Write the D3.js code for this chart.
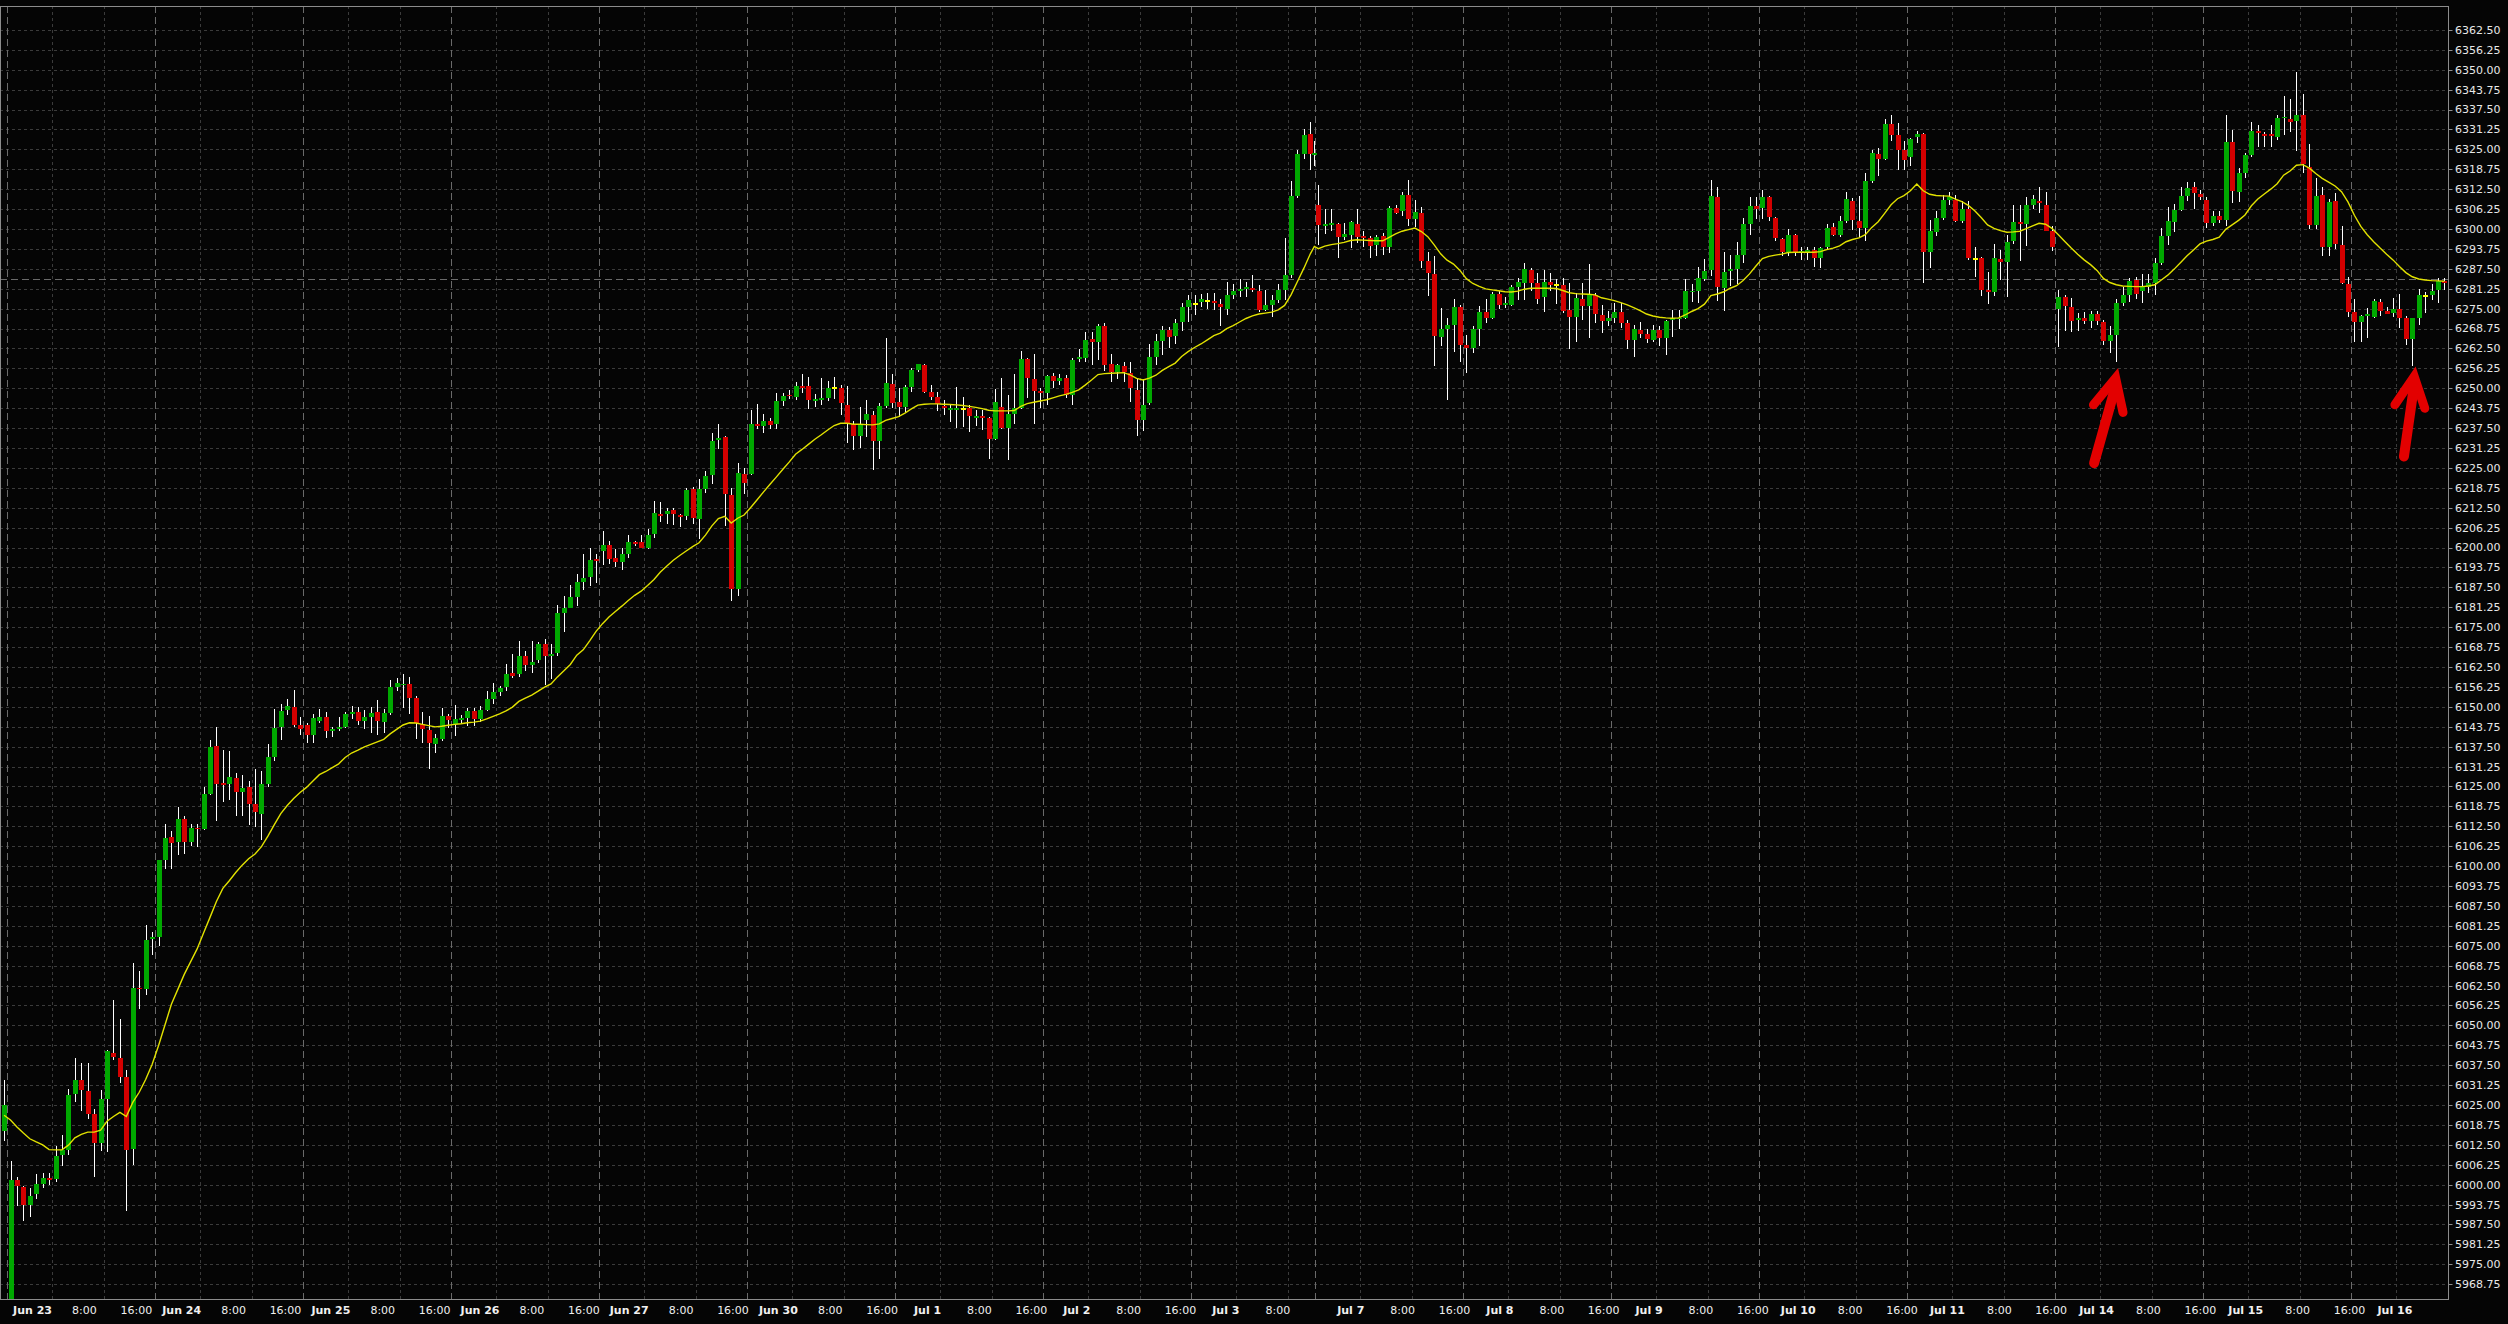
<!DOCTYPE html>
<html><head><meta charset="utf-8">
<script src="https://cdn.jsdelivr.net/npm/d3@7"></script>
<style>html,body{margin:0;padding:0;background:#050505;} svg{display:block;}</style>
</head><body>
<svg id="chart" width="2508" height="1324"></svg>
<script>
// ---------------- DATA ----------------
// Trading sessions (hourly candles, session 17:00 -> 16:00). First entry = last hour of Jun 20 session.
const sessionDates   = ['Jun 20','Jun 23','Jun 24','Jun 25','Jun 26','Jun 27','Jun 30','Jul 1','Jul 2','Jul 3','Jul 7','Jul 8','Jul 9','Jul 10','Jul 11','Jul 14','Jul 15','Jul 16'];
const sessionHours   = [1,23,23,23,23,23,23,23,23,19.25,23,23,23,23,23,23,23,23];
const sessionCandles = [1,23,23,23,23,23,23,23,23,20,23,23,23,23,23,23,23,15];

const open = [
 6016.9,
 5958,6001.3,5999.2,5993.6,5997.0,6000.3,6002.2,6001.7,6009.4,6011.0,6028.3,6033.0,6029.3,6022.1,6013.1,6027.0,6041.3,6039.8,6033.9,6011.1,6061.8,6061.3,6077.1,
 6077.7,6101.9,6109.2,6107.5,6114.8,6107.5,6112.1,6111.6,6122.7,6137.6,6126.2,6125.9,6127.7,6123.4,6124.7,6119.6,6116.2,6125.8,6134.3,6143.6,6149.0,6150.0,6144.4,
 6144.2,6141.1,6145.7,6146.7,6142.3,6142.9,6143.8,6147.9,6148.3,6145.7,6146.7,6148.3,6145.1,6148.0,6156.3,6156.7,6157.2,6152.7,6144.5,6142.7,6138.4,6140.0,6147.1,
 6144.7,6145.8,6146.6,6148.7,6146.3,6149.0,6152.6,6154.7,6156.2,6160.7,6160.2,6165.9,6163.0,6164.7,6169.7,6166.0,6167.0,6179.5,6181.0,6184.5,6189.3,6190.7,6196.4,
 6198.9,6200.9,6196.7,6195.5,6198.1,6201.7,6201.7,6199.8,6204.2,6210.4,6210.4,6211.7,6210.3,6209.9,6218.5,6209.1,6218.5,6222.8,6233.9,6234.7,6216.5,6187.1,6223.2,
 6223.2,6238.9,6238.0,6239.7,6238.7,6246.0,6248.0,6247.4,6250.7,6250.7,6246.2,6246.5,6247.0,6250.0,6250.0,6244.9,6238.9,6235.1,6240.1,6241.5,6233.5,6244.3,6251.4,
 6245.6,6244.1,6250.3,6255.6,6257.2,6248.9,6247.3,6244.5,6243.3,6243.3,6243.5,6243.8,6240.7,6241.2,6240.6,6234.0,6244.0,6237.5,6241.9,6243.7,6259.2,6252.8,6249.2,
 6248.5,6254.0,6252.3,6253.2,6247.8,6259.1,6259.5,6265.5,6264.5,6269.7,6257.5,6255.1,6256.9,6254.8,6249.6,6239.9,6245.3,6259.8,6264.7,6268.2,6266.3,6270.7,6275.4,
 6276.4,6277.1,6277.4,6277.3,6276.4,6275.0,6279.4,6280.4,6281.1,6281.5,6280.5,6274.6,6276.2,6277.8,6280.7,6285.6,6310.2,6323.6,6329.9,6323.2,
 6307.6,6300.8,6301.3,6301.6,6297.6,6298.2,6301.6,6297.9,6297.3,6295.0,6297.8,6294.2,6306.7,6305.5,6310.7,6303.1,6305.0,6289.9,6285.9,6266.2,6268.6,6269.9,6275.5,
 6263.5,6262.5,6268.6,6273.8,6272.2,6279.6,6276.1,6276.2,6281.7,6283.2,6287.2,6283.2,6278.5,6283.4,6282.3,6282.5,6274.6,6272.3,6278.0,6275.7,6279.2,6273.1,6271.0,
 6272.2,6273.8,6270.6,6265.2,6268.3,6267.1,6265.0,6268.3,6265.9,6271.3,6271.7,6272.2,6280.1,6280.6,6284.4,6287.2,6310.1,6281.6,6286.7,6287.5,6291.7,6301.6,6307.3,
 6306.7,6310.1,6303.4,6296.9,6292.9,6298.2,6292.6,6292.7,6293.5,6291.0,6294.5,6300.6,6298.2,6302.4,6308.8,6302.6,6300.3,6315.1,6323.6,6322.0,6333.0,6329.5,6324.8,
 6322.7,6328.8,6329.9,6292.9,6299.2,6303.6,6309.2,6309.2,6302.4,6306.3,6290.7,6290.8,6280.7,6280.2,6290.6,6289.5,6296.1,6302.1,6301.6,6307.6,6308.9,6307.6,6299.4,
 6274.8,6278.6,6275.5,6271.3,6272.1,6271.0,6273.4,6270.9,6264.7,6266.8,6276.9,6279.3,6284.0,6280.4,6281.9,6283.0,6289.3,6297.7,6302.3,6306.0,6310.2,6313.1,6311.0,
 6309.1,6302.0,6304.1,6302.9,6327.2,6311.5,6317.5,6323.3,6330.8,6329.9,6329.9,6329.0,6334.8,6334.5,6334.0,6335.8,6319.4,6301.3,6310.7,6294.2,6308.8,6295.0,6282.8,
 6273.9,6270.9,6272.7,6272.5,6277.0,6274.1,6273.6,6274.8,6272.0,6265.5,6272.0,6279.1,6279.3,6280.9,6283.7
];
const high = [
 6032.7,
 6007.5,6002.5,5999.7,5998.8,6003.4,6003.8,6003.8,6012.2,6015.6,6029.9,6039.6,6038.2,6038.2,6023.7,6029.6,6042.2,6058.1,6052.0,6035.9,6069.5,6067.0,6081.5,6079.3,
 6102.0,6113.1,6110.9,6118.7,6115.6,6113.1,6113.1,6124.9,6139.5,6143.8,6136.4,6136.1,6129.3,6128.7,6126.8,6130.5,6129.9,6138.2,6149.2,6151.0,6152.3,6155.4,6146.7,
 6144.8,6147.7,6149.2,6148.5,6143.8,6146.7,6148.5,6150.4,6150.0,6149.0,6149.8,6152.0,6149.2,6158.5,6159.0,6160.2,6159.4,6153.4,6148.5,6147.1,6141.4,6149.7,6147.6,
 6150.6,6147.4,6149.7,6149.5,6150.3,6155.0,6157.6,6156.5,6163.5,6166.7,6170.6,6167.5,6170.6,6170.3,6171.2,6169.6,6181.9,6184.7,6188.3,6191.6,6198.1,6200.0,6197.9,
 6205.2,6202.0,6199.6,6200.0,6203.9,6202.0,6203.9,6205.7,6214.6,6214.4,6212.5,6212.5,6210.6,6218.8,6219.0,6221.4,6224.0,6236.1,6238.7,6235.0,6218.6,6226.6,6225.1,
 6243.1,6245.2,6241.8,6240.8,6248.4,6248.6,6249.4,6252.1,6254.6,6253.5,6248.1,6253.3,6252.2,6253.5,6250.9,6250.6,6239.7,6244.1,6246.2,6242.9,6245.3,6265.8,6254.6,
 6250.0,6250.9,6256.4,6257.7,6257.5,6250.9,6248.9,6246.2,6244.6,6250.3,6247.3,6244.9,6243.1,6243.3,6241.1,6249.7,6253.2,6247.8,6254.4,6261.6,6259.6,6260.6,6250.0,
 6254.2,6254.8,6254.6,6254.3,6259.6,6262.4,6267.6,6267.6,6270.3,6270.5,6260.6,6257.7,6258.3,6258.4,6252.8,6252.9,6264.0,6266.9,6269.7,6269.2,6271.8,6276.8,6279.2,
 6279.2,6279.7,6279.9,6279.9,6278.1,6283.5,6282.7,6284.3,6283.5,6285.6,6282.5,6280.9,6279.3,6282.8,6297.3,6315.1,6324.8,6331.4,6333.5,6327.5,
 6313.9,6306.3,6306.3,6302.0,6301.8,6302.5,6306.3,6299.5,6297.8,6298.2,6298.7,6307.1,6307.6,6311.5,6315.4,6309.2,6306.8,6292.7,6291.4,6275.1,6272.0,6278.0,6276.2,
 6266.8,6269.4,6275.9,6278.0,6280.1,6280.4,6278.8,6282.5,6284.6,6289.3,6287.7,6286.1,6287.2,6286.1,6284.2,6284.6,6283.0,6279.9,6283.2,6288.9,6279.8,6276.2,6274.1,
 6276.7,6276.7,6271.5,6269.9,6270.9,6268.7,6269.9,6269.4,6271.5,6274.6,6274.6,6284.4,6282.8,6288.0,6290.6,6315.4,6313.3,6292.9,6291.7,6295.9,6303.6,6309.9,6309.9,
 6312.3,6310.2,6303.9,6297.3,6300.0,6298.4,6294.2,6294.5,6294.2,6294.5,6301.5,6301.8,6304.0,6311.6,6309.7,6310.2,6317.5,6324.8,6325.4,6334.6,6335.8,6333.4,6327.7,
 6328.7,6330.8,6330.1,6302.9,6305.7,6310.7,6311.5,6310.7,6308.8,6308.8,6294.2,6291.3,6286.6,6295.2,6293.5,6298.2,6307.6,6307.6,6309.9,6310.7,6313.1,6311.5,6300.8,
 6280.7,6279.3,6278.3,6273.6,6273.9,6274.1,6274.1,6271.5,6269.4,6278.1,6281.9,6284.5,6284.9,6285.9,6285.8,6290.8,6300.2,6306.8,6307.9,6313.3,6314.6,6314.8,6312.3,
 6310.0,6305.5,6305.5,6335.8,6331.1,6319.1,6323.8,6333.5,6332.7,6330.6,6332.5,6335.8,6341.6,6340.8,6349.2,6342.4,6326.7,6315.9,6313.3,6309.4,6311.2,6300.8,6284.9,
 6278.0,6273.0,6275.1,6278.0,6278.1,6275.5,6278.3,6279.5,6272.7,6272.0,6281.1,6280.1,6282.8,6284.5,6284.5
];
const low = [
 6013.7,
 5955,5993.2,5988.6,5989.9,5995.5,5998.8,6000.0,6000.9,6005.9,6009.4,6025.8,6023.0,6020.6,6002.5,6010.6,6010.4,6039.2,6032.0,5991.7,6006.3,6055.0,6059.6,6072.1,
 6075.0,6099.1,6099.2,6103.5,6103.8,6106.3,6106.0,6111.3,6122.4,6114.0,6120.0,6120.6,6115.6,6115.6,6112.9,6112.2,6108.2,6124.9,6133.0,6139.5,6147.3,6143.8,6141.1,
 6138.6,6138.6,6144.8,6140.2,6140.5,6142.3,6143.3,6146.1,6144.2,6142.9,6141.7,6141.3,6141.7,6147.3,6155.0,6149.7,6147.8,6139.8,6138.7,6130.4,6135.6,6139.3,6143.4,
 6140.8,6144.5,6144.0,6144.0,6145.2,6148.7,6150.8,6153.4,6155.0,6158.9,6159.4,6161.2,6160.7,6163.9,6157.0,6158.6,6165.9,6173.6,6180.9,6181.6,6186.6,6187.8,6189.0,
 6194.5,6194.9,6193.9,6193.0,6196.8,6200.4,6199.7,6199.4,6203.1,6208.1,6207.5,6207.1,6206.4,6208.5,6207.5,6202.6,6217.0,6219.8,6231.0,6206.8,6183.2,6184.8,6216.7,
 6222.9,6237.1,6235.8,6237.1,6237.3,6244.4,6246.5,6246.3,6248.4,6243.4,6244.1,6244.6,6246.0,6246.7,6241.7,6232.8,6230.7,6231.2,6234.8,6224.2,6227.8,6243.7,6243.9,
 6240.9,6242.2,6248.9,6255.1,6248.6,6246.2,6242.8,6241.5,6239.5,6237.4,6237.8,6236.2,6238.0,6237.0,6227.8,6233.8,6237.3,6227.6,6238.9,6243.4,6247.0,6238.9,6243.8,
 6244.6,6250.0,6251.1,6246.9,6244.6,6258.4,6258.4,6257.4,6258.8,6255.3,6252.0,6253.0,6252.0,6245.6,6235.1,6236.6,6244.6,6257.2,6260.4,6262.7,6263.8,6267.9,6270.7,
 6272.9,6275.5,6275.0,6274.7,6269.4,6273.1,6278.1,6278.8,6278.8,6280.1,6273.8,6274.1,6272.5,6276.7,6277.8,6284.6,6309.7,6321.9,6318.6,6319.8,
 6295.0,6298.5,6299.5,6290.8,6296.6,6294.0,6295.7,6294.5,6290.8,6291.6,6291.9,6292.6,6304.7,6304.1,6301.0,6300.6,6287.7,6279.0,6257.0,6263.3,6246.4,6261.5,6258.2,
 6254.7,6261.2,6263.3,6270.4,6271.7,6274.9,6275.1,6275.7,6277.8,6277.8,6280.4,6276.5,6273.8,6280.4,6276.5,6273.6,6262.3,6264.4,6271.3,6265.7,6270.6,6267.5,6269.4,
 6270.6,6268.9,6262.3,6259.8,6265.7,6264.2,6264.4,6263.3,6260.3,6266.0,6268.6,6271.8,6277.0,6276.7,6283.7,6285.1,6277.5,6274.1,6282.0,6282.7,6289.3,6298.2,6303.2,
 6303.2,6302.6,6296.1,6291.4,6291.4,6291.4,6290.3,6290.3,6288.2,6287.7,6293.8,6297.9,6297.6,6301.8,6299.7,6297.1,6296.1,6314.4,6316.5,6321.7,6327.5,6318.4,6318.6,
 6319.8,6327.1,6283.2,6287.7,6297.9,6302.9,6307.6,6302.1,6301.8,6290.3,6284.8,6279.1,6276.5,6279.1,6284.0,6278.5,6295.2,6290.1,6294.8,6306.3,6304.9,6299.4,6293.2,
 6263.1,6268.1,6267.8,6268.1,6270.2,6268.9,6269.9,6263.6,6261.2,6258.4,6275.7,6277.2,6278.0,6276.7,6280.0,6279.3,6288.7,6295.0,6298.9,6305.5,6308.9,6306.2,6309.1,
 6300.2,6300.8,6301.8,6300.8,6308.3,6308.6,6315.9,6322.5,6325.7,6325.7,6325.7,6327.8,6329.5,6330.3,6324.5,6317.7,6300.0,6299.9,6291.6,6291.4,6293.8,6282.8,6272.5,
 6264.4,6264.4,6265.7,6272.0,6272.7,6273.3,6272.5,6268.9,6263.6,6257.0,6269.9,6273.6,6277.7,6276.9,6280.8
];
const close = [
 6024.9,
 6001.3,5999.5,5993.6,5996.3,6000.3,6002.1,6001.3,6008.9,6011.0,6028.0,6033.0,6029.6,6022.1,6013.1,6026.8,6041.9,6040.1,6033.9,6010.9,6061.8,6061.3,6076.7,6077.7,
 6101.9,6108.8,6107.2,6114.8,6107.5,6111.9,6111.5,6122.7,6137.4,6125.9,6125.6,6128.0,6123.3,6124.6,6119.6,6117.1,6125.8,6134.3,6143.2,6148.8,6150.3,6144.4,6143.0,
 6141.1,6146.4,6146.7,6142.3,6142.9,6143.8,6147.9,6148.5,6145.7,6146.7,6148.2,6145.4,6148.0,6156.3,6157.5,6157.2,6152.9,6145.0,6142.9,6138.7,6140.1,6147.1,6145.9,
 6146.3,6146.6,6148.7,6146.3,6149.0,6152.6,6154.7,6156.0,6160.4,6159.7,6165.9,6163.0,6164.1,6169.8,6166.0,6166.5,6179.3,6181.0,6184.6,6189.3,6190.5,6196.0,6195.7,
 6200.9,6196.5,6195.5,6198.1,6201.7,6201.2,6199.8,6204.0,6210.7,6209.9,6211.5,6210.4,6209.7,6218.1,6209.4,6218.5,6222.5,6233.4,6234.3,6216.7,6187.1,6223.3,6220.4,
 6238.9,6238.0,6239.7,6238.6,6246.0,6247.6,6247.5,6250.7,6250.2,6246.2,6246.6,6246.9,6250.2,6250.0,6245.3,6239.1,6235.1,6238.9,6241.8,6233.5,6244.5,6251.5,6245.4,
 6244.1,6250.3,6255.6,6257.5,6248.9,6247.3,6245.0,6243.8,6243.8,6243.8,6243.5,6241.2,6241.2,6240.7,6234.1,6245.6,6237.5,6241.9,6243.7,6259.2,6253.2,6249.1,6248.5,
 6254.0,6252.3,6253.2,6247.8,6258.8,6259.7,6265.3,6264.5,6269.7,6257.2,6255.1,6257.2,6255.1,6250.0,6239.9,6244.9,6259.8,6264.7,6268.2,6266.1,6270.5,6275.4,6277.6,
 6276.4,6277.9,6277.4,6276.8,6275.4,6279.2,6280.5,6281.1,6281.8,6281.0,6274.6,6276.0,6277.8,6280.9,6285.6,6310.4,6323.6,6329.5,6323.5,6323.7,
 6301.1,6301.6,6301.9,6297.6,6298.5,6302.2,6297.6,6297.3,6294.7,6297.4,6294.2,6306.7,6305.0,6310.7,6303.1,6305.4,6290.1,6286.1,6266.5,6268.7,6269.9,6275.5,6263.5,
 6262.5,6268.7,6273.8,6272.2,6279.6,6276.2,6276.9,6281.7,6283.5,6287.5,6283.2,6278.1,6283.5,6282.5,6282.3,6274.4,6272.3,6278.3,6275.7,6279.2,6273.3,6271.0,6272.2,
 6273.8,6270.6,6265.2,6268.7,6267.1,6265.5,6268.3,6265.9,6271.2,6272.0,6272.2,6280.6,6280.6,6284.6,6286.9,6310.4,6281.9,6286.4,6287.5,6291.9,6301.6,6307.3,6306.4,
 6310.1,6303.9,6297.1,6292.9,6298.2,6292.7,6293.1,6293.5,6291.0,6294.0,6300.3,6298.2,6302.6,6309.5,6302.9,6300.3,6315.1,6324.0,6322.0,6333.0,6329.5,6324.8,6321.7,
 6328.3,6329.9,6292.9,6299.4,6303.6,6309.2,6309.9,6302.4,6306.3,6291.0,6290.7,6280.7,6280.2,6290.8,6289.5,6295.9,6302.1,6301.6,6307.6,6309.5,6308.3,6299.5,6294.5,
 6278.8,6275.7,6271.0,6272.2,6271.0,6273.4,6271.0,6264.7,6266.8,6276.7,6279.3,6283.7,6279.6,6281.9,6283.0,6289.3,6297.8,6302.5,6306.0,6310.2,6313.0,6311.2,6309.9,
 6302.0,6304.1,6302.9,6327.2,6312.0,6317.5,6323.3,6330.8,6330.1,6329.2,6329.2,6334.8,6335.3,6333.7,6335.8,6320.4,6301.3,6310.5,6294.2,6308.6,6295.3,6283.0,6273.8,
 6270.9,6272.7,6273.2,6277.4,6274.1,6273.4,6274.9,6272.0,6265.5,6272.0,6279.3,6279.1,6280.6,6283.7,6283.2
];
// Moving average values as plotted (yellow line)
const sma = [
 6021.8,
 6020.3,6018.1,6016.2,6014.4,6013.4,6012.5,6011.0,6010.9,6010.9,6012.4,6014.7,6015.8,6016.5,6016.5,6017.1,6019.9,6021.4,6022.7,6021.4,6025.8,6029.0,6033.0,6037.7,
 6043.6,6050.1,6056.6,6061.3,6066.0,6070.0,6074.0,6079.0,6083.9,6088.9,6093.0,6095.4,6098.0,6100.3,6102.3,6103.8,6106.1,6109.4,6113.0,6116.5,6119.0,6121.2,6123.1,
 6124.7,6126.7,6128.7,6129.7,6130.9,6132.1,6134.1,6135.5,6136.4,6137.4,6138.2,6139.0,6139.8,6141.5,6142.9,6144.3,6145.0,6144.9,6144.5,6144.1,6143.7,6143.9,6144.2,
 6144.5,6144.7,6145.0,6145.2,6145.5,6146.2,6147.0,6147.8,6148.7,6149.9,6151.7,6152.7,6153.7,6154.9,6156.2,6157.2,6159.4,6161.3,6163.3,6166.2,6167.9,6170.7,6173.7,
 6176.1,6178.2,6179.9,6181.6,6183.4,6185.0,6186.3,6188.1,6190.0,6192.3,6194.2,6196.0,6197.5,6198.9,6200.3,6201.5,6203.9,6206.8,6209.1,6209.8,6207.7,6209.2,6210.2,
 6212.5,6214.9,6217.4,6219.8,6222.1,6224.5,6226.8,6229.3,6230.8,6232.4,6234.0,6235.4,6236.9,6238.3,6239.0,6239.0,6238.7,6238.7,6238.6,6238.5,6238.8,6239.9,6240.5,
 6241.1,6242.2,6243.5,6244.7,6245.0,6245.1,6245.1,6245.0,6244.9,6244.8,6244.6,6244.3,6244.0,6243.6,6243.1,6242.9,6242.9,6242.9,6243.0,6244.3,6245.2,6245.6,6246.0,
 6246.4,6247.0,6247.6,6248.1,6248.7,6249.5,6251.0,6252.6,6254.3,6254.6,6254.7,6254.8,6254.9,6254.2,6253.1,6252.6,6253.2,6254.1,6255.6,6256.8,6257.9,6260.0,6261.5,
 6262.8,6263.9,6265.2,6266.5,6267.3,6268.7,6269.7,6270.8,6271.9,6272.7,6273.3,6273.6,6273.9,6274.6,6276.0,6279.3,6283.5,6287.7,6292.2,6294.5,
 6293.8,6294.6,6295.1,6295.4,6295.8,6296.4,6296.6,6296.5,6296.4,6296.3,6296.3,6297.4,6298.5,6299.3,6299.8,6300.3,6299.2,6297.6,6295.0,6292.2,6290.2,6289.0,6287.0,
 6284.4,6282.9,6282.0,6281.2,6280.9,6280.6,6280.3,6280.2,6280.5,6281.1,6281.4,6281.4,6281.4,6281.4,6281.3,6280.7,6280.0,6279.7,6279.6,6279.5,6279.3,6278.4,6278.0,
 6277.5,6276.9,6276.2,6275.3,6274.4,6273.3,6272.7,6272.3,6272.1,6272.0,6272.1,6273.0,6274.1,6275.0,6276.4,6279.1,6279.6,6280.3,6281.4,6282.2,6283.8,6285.9,6288.4,
 6290.7,6291.4,6291.8,6292.1,6292.6,6292.7,6292.7,6292.7,6292.7,6292.9,6293.5,6294.0,6294.7,6296.0,6296.7,6297.2,6298.2,6300.5,6302.3,6304.9,6307.6,6309.5,6310.5,
 6312.0,6314.1,6312.0,6310.9,6310.5,6310.4,6310.3,6309.4,6308.6,6307.4,6305.7,6303.6,6301.3,6300.2,6299.5,6299.0,6299.1,6299.3,6300.1,6301.0,6301.8,6301.5,6300.2,
 6298.2,6296.1,6294.0,6292.1,6290.3,6288.8,6287.0,6284.5,6283.2,6282.5,6282.1,6282.0,6281.9,6281.9,6282.1,6282.5,6284.0,6285.5,6287.4,6289.5,6291.6,6293.4,6295.3,
 6296.2,6296.7,6297.4,6299.9,6301.3,6302.7,6304.4,6307.3,6309.4,6311.0,6312.5,6314.2,6316.9,6318.2,6320.0,6320.2,6319.1,6317.4,6315.9,6314.7,6313.5,6311.7,6308.5,
 6304.3,6300.8,6298.2,6296.0,6294.0,6292.1,6290.3,6288.2,6286.3,6285.0,6284.3,6284.0,6283.8,6283.7,6283.6
];
const lastPrice = 6284.25;
// price axis ticks
const yTickStart = 5968.75, yTickStep = 6.25, yTickCount = 64;
// visible ranges (trading hours since Jun 23 session open / price)
const xDomain = [-1.134, 379.3];
const yDomain = [5964.1, 6370.0];
// annotation arrows: [tail, tip, wingLeft, wingRight] in (trading-hour, price)
const arrows = [
  [[324.3,6226.5],[327.65,6253.2],[324.2,6244.8],[328.8,6242.4]],
  [[372.45,6228.6],[374.05,6253.7],[371.05,6244.8],[375.7,6243.7]]
];

// ---------------- DRAW ----------------
const W = 2508, H = 1324;
const PL = 0, PT = 6, PR = 2448, PB = 1299;
const svg = d3.select('#chart');
svg.append('rect').attr('width', W).attr('height', H).attr('fill', '#050505');

const x = d3.scaleLinear().domain(xDomain).range([PL, PR]);
const y = d3.scaleLinear().domain(yDomain).range([PB, PT]);
const labelX = d3.scaleLinear().domain([PL, PR]).range([PL - 20.2, PR * 1.00789 - 20.2]);

const sessionStart = [];
let acc = -1;
sessionHours.forEach(h => { sessionStart.push(acc); acc += h; });
const centers = [];
sessionCandles.forEach((n, s) => {
  for (let k = 0; k < n; k++) centers.push(sessionStart[s] + (k + Math.min(k + 1, sessionHours[s])) / 2);
});
if (centers.length !== open.length) console.warn('length mismatch', centers.length, open.length, high.length, low.length, close.length, sma.length);

svg.append('clipPath').attr('id', 'clip').append('rect')
  .attr('x', PL).attr('y', PT).attr('width', PR - PL).attr('height', PB - PT);
const plot = svg.append('g').attr('clip-path', 'url(#clip)');

// horizontal grid
const yTicks = d3.range(yTickCount).map(k => yTickStart + k * yTickStep);
plot.append('g').selectAll('line').data(yTicks).join('line')
  .attr('x1', PL).attr('x2', PR)
  .attr('y1', d => Math.round(y(d)) + 0.5).attr('y2', d => Math.round(y(d)) + 0.5)
  .attr('stroke', '#3b3b3b').attr('stroke-width', 1).attr('stroke-dasharray', '3,3');

// vertical grid
const hourLines = [], sessLines = [], xLabels = [];
for (let s = 1; s < sessionDates.length; s++) {
  const u0 = sessionStart[s];
  sessLines.push(u0);
  [7, 15].forEach(h => { if (h < sessionHours[s] && x(u0 + h) < PR - 2) hourLines.push(u0 + h); });
  if (x(u0 + 7) < PR - 2) xLabels.push({u: u0 + 7, t: sessionDates[s], bold: true});
  if (15 < sessionHours[s] && x(u0 + 15) < PR - 2) xLabels.push({u: u0 + 15, t: '8:00', bold: false});
  if (sessionHours[s] === 23 && x(u0 + 23) < PR - 2) xLabels.push({u: u0 + 23, t: '16:00', bold: false});
}
plot.append('g').selectAll('line').data(hourLines).join('line')
  .attr('x1', d => Math.round(x(d)) + 0.5).attr('x2', d => Math.round(x(d)) + 0.5)
  .attr('y1', PT).attr('y2', PB)
  .attr('stroke', '#3b3b3b').attr('stroke-dasharray', '3,3');
plot.append('g').selectAll('line').data(sessLines).join('line')
  .attr('x1', d => Math.round(x(d)) + 0.5).attr('x2', d => Math.round(x(d)) + 0.5)
  .attr('y1', PT).attr('y2', PB)
  .attr('stroke', '#6a6a6a').attr('stroke-dasharray', '7,4');

// last price line
plot.append('line')
  .attr('x1', PL).attr('x2', PR)
  .attr('y1', Math.round(y(lastPrice)) + 0.5).attr('y2', Math.round(y(lastPrice)) + 0.5)
  .attr('stroke', '#6a6a6a').attr('stroke-dasharray', '7,4');

// candles
const idx = d3.range(open.length);
const cg = plot.append('g');
cg.selectAll('line.wick').data(idx).join('line').attr('class', 'wick')
  .attr('x1', i => Math.round(x(centers[i])) + 0.5).attr('x2', i => Math.round(x(centers[i])) + 0.5)
  .attr('y1', i => y(high[i])).attr('y2', i => y(low[i]))
  .attr('stroke', '#ffffff').attr('stroke-width', 1).attr('shape-rendering', 'crispEdges');
const bw = 5.5;
cg.selectAll('rect.body').data(idx).join('rect').attr('class', 'body')
  .attr('x', i => Math.round(x(centers[i])) + 0.5 - bw / 2)
  .attr('width', bw)
  .attr('y', i => open[i] === close[i] ? y(open[i]) - 1 : y(Math.max(open[i], close[i])))
  .attr('height', i => open[i] === close[i] ? 2 : Math.max(1.5, Math.abs(y(open[i]) - y(close[i]))))
  .attr('fill', i => close[i] > open[i] ? '#00a800' : (close[i] < open[i] ? '#d40000' : '#ffff00'))
  .attr('shape-rendering', 'crispEdges');

// moving average
plot.append('path').datum(idx)
  .attr('d', d3.line().x(i => x(centers[i])).y(i => y(sma[i])))
  .attr('fill', 'none').attr('stroke', '#e2e200').attr('stroke-width', 1.4);

// frame
svg.append('rect').attr('x', PL + 0.5).attr('y', PT + 0.5).attr('width', PR - PL).attr('height', PB - PT)
  .attr('fill', 'none').attr('stroke', '#8c8c8c').attr('stroke-width', 1);

// y axis labels
const yg = svg.append('g');
yg.selectAll('line').data(yTicks).join('line')
  .attr('x1', PR + 0.5).attr('x2', PR + 4.5)
  .attr('y1', d => Math.round(y(d)) + 0.5).attr('y2', d => Math.round(y(d)) + 0.5)
  .attr('stroke', '#8c8c8c');
yg.selectAll('text').data(yTicks).join('text')
  .attr('x', PR + 7).attr('y', d => y(d)).attr('dy', '0.36em')
  .attr('font-family', 'DejaVu Sans, Verdana, sans-serif').attr('font-size', 11)
  .attr('fill', '#e8e8e8').text(d => d.toFixed(2));

// x axis labels
svg.append('g').selectAll('text').data(xLabels).join('text')
  .attr('x', d => labelX(x(d.u))).attr('y', 1314)
  .attr('text-anchor', 'middle')
  .attr('font-family', 'DejaVu Sans, Verdana, sans-serif').attr('font-size', 11)
  .attr('font-weight', d => d.bold ? 'bold' : 'normal')
  .attr('fill', '#f0f0f0').text(d => d.t);

// annotation arrows
const ag = svg.append('g');
arrows.forEach(a => {
  const P = a.map(p => [x(p[0]), y(p[1])]);
  ag.append('line').attr('x1', P[0][0]).attr('y1', P[0][1]).attr('x2', P[1][0]).attr('y2', P[1][1] + 8)
    .attr('stroke', '#e30000').attr('stroke-width', 10).attr('stroke-linecap', 'round');
  ag.append('path').attr('d', d3.line()([P[2], P[1], P[3]]))
    .attr('fill', 'none').attr('stroke', '#e30000').attr('stroke-width', 9)
    .attr('stroke-linecap', 'round').attr('stroke-linejoin', 'miter');
});
</script>
</body></html>
